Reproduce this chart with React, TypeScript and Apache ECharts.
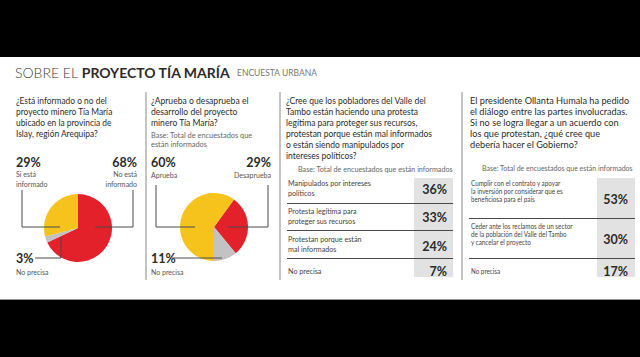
import React, { useEffect, useRef } from "react";
import * as echarts from "echarts";

// ---- Data ----
const titleLight = "SOBRE EL ";
const titleBold = "PROYECTO TÍA MARÍA";
const titleSub = "ENCUESTA URBANA";

const q1Question = ["¿Está informado o no del", "proyecto minero Tía María", "ubicado en la provincia de", "Islay, región Arequipa?"];
const q1Categories = ["No está\ninformado", "No precisa", "Si está\ninformado"];
const q1Values = [68, 3, 29];

const q2Question = ["¿Aprueba o desaprueba el", "desarrollo del proyecto", "minero Tía María?"];
const q2Base = "Base: Total de encuestados que\nestán informados";
const q2Categories = ["Desaprueba", "No precisa", "Aprueba"];
const q2Values = [29, 11, 60];

const q3Question = [
  "¿Cree que los pobladores del Valle del",
  "Tambo están haciendo una protesta",
  "legítima para proteger sus recursos,",
  "protestan porque están mal informados",
  "o están siendo manipulados por",
  "intereses políticos?",
];
const q3Base = "Base: Total de encuestados que están informados";
const q3Categories = ["Manipulados por intereses\npolíticos", "Protesta legítima para\nproteger sus recursos", "Protestan porque están\nmal informados", "No precisa"];
const q3Values = [36, 33, 24, 7];

const q4Question = [
  "El presidente Ollanta Humala ha pedido",
  "el diálogo entre las partes involucradas.",
  "Si no se logra llegar a un acuerdo con",
  "los que protestan, ¿qué cree que",
  "debería hacer el Gobierno?",
];
const q4Base = "Base: Total de encuestados que están informados";
const q4Categories = [
  "Cumplir con el contrato y apoyar\nla inversión por considerar que es\nbeneficiosa para el país",
  "Ceder ante los reclamos de un sector\nde la población del Valle del Tambo\ny cancelar el proyecto",
  "No precisa",
];
const q4Values = [53, 30, 17];

// ---- Styles ----
const RED = "#e3212b";
const GRAY = "#c2c2c2";
const YELLOW = "#f6c31c";
const FONT = "Lato, 'Open Sans', sans-serif";

function txt(x: number, y: number, text: string, o: any = {}) {
  return {
    type: "text",
    x,
    y,
    z: 20,
    scaleX: o.sx || 1,
    silent: true,
    style: {
      text,
      fill: o.fill || "#2b2b2b",
      fontSize: o.size || 10,
      fontWeight: o.weight || "normal",
      fontFamily: FONT,
      textAlign: o.align || "left",
      textVerticalAlign: o.valign || "middle",
      lineHeight: o.lh,
      rich: o.rich,
    },
  };
}
// multi-line text: y0 = centre of first line
function mtxt(x: number, y0: number, text: string, lh: number, o: any = {}) {
  return txt(x, y0 - lh / 2, text, { ...o, valign: "top", lh });
}
function poly(points: number[][]) {
  return { type: "polyline", z: 20, silent: true, shape: { points }, style: { stroke: "#4a4a4a", lineWidth: 1, fill: null } };
}
function hline(x1: number, x2: number, y: number, color = "#4a4a4a", w = 1.2) {
  return { type: "line", z: 20, silent: true, shape: { x1, y1: y, x2, y2: y }, style: { stroke: color, lineWidth: w } };
}
function vline(x: number, y1: number, y2: number) {
  return { type: "line", z: 20, silent: true, shape: { x1: x, y1, x2: x, y2 }, style: { stroke: "#8a8a8a", lineWidth: 1 } };
}
const pct = (v: number) => v + "%";

export default function App() {
  const ref = useRef<HTMLDivElement>(null);
  useEffect(() => {
    const chart = echarts.init(ref.current!, null, { renderer: "svg" });
    const g: any[] = [];
    // background
    g.push({ type: "rect", z: 0, silent: true, shape: { x: 0, y: 57, width: 640, height: 242 }, style: { fill: "#ffffff" } });
    g.push(hline(0, 640, 299.5, "#9a9a9a", 1));
    // title
    g.push(
      txt(15, 72, "{a|" + titleLight + "}{b|" + titleBold + "}", {
        rich: {
          a: { fontSize: 14, fontWeight: 300, fontFamily: FONT, fill: "#3a3a3a" },
          b: { fontSize: 14, fontWeight: "bold", fontFamily: FONT, fill: "#2b2b2b" },
        },
      })
    );
    g.push(txt(237, 73, titleSub, { size: 8.5, fill: "#777" }));
    // dividers
    g.push(vline(146, 92, 280), vline(280, 92, 280), vline(462, 92, 280));

    // questions
    const qs = { size: 10, sx: 0.84 };
    g.push(mtxt(16, 100, q1Question.join("\n"), 11, qs));
    g.push(mtxt(151, 100, q2Question.join("\n"), 11, { size: 10, sx: 0.86 }));
    g.push(mtxt(151, 135, q2Base, 8.5, { size: 7.8, fill: "#666", sx: 0.95 }));
    g.push(mtxt(286, 100, q3Question.join("\n"), 11, { size: 10, sx: 0.85 }));
    g.push(txt(298, 169, q3Base, { size: 7.2, fill: "#666" }));
    g.push(mtxt(470, 100, q4Question.join("\n"), 11, { size: 10, sx: 0.92 }));
    g.push(txt(482, 168, q4Base, { size: 7, fill: "#666" }));

    const ls = { size: 7, fill: "#555" };
    // pie 1 labels (order: No está, No precisa, Sí está)
    g.push(txt(16, 162, pct(q1Values[2]), { size: 12.5, weight: "bold" }));
    g.push(mtxt(16, 174, q1Categories[2], 9.5, ls));
    g.push(txt(137, 162, pct(q1Values[0]), { size: 12.5, weight: "bold", align: "right" }));
    g.push(mtxt(137, 174, q1Categories[0], 9.5, { ...ls, align: "right" }));
    g.push(txt(16, 258, pct(q1Values[1]), { size: 12.5, weight: "bold" }));
    g.push(txt(16, 272, q1Categories[1], ls));
    g.push(poly([[22, 190], [22, 227], [60, 227]]));
    g.push(poly([[133, 190], [133, 227], [95, 227]]));
    g.push(poly([[35, 258], [61, 258], [61, 237]]));

    // pie 2 labels (order: Desaprueba, No precisa, Aprueba)
    g.push(txt(151, 162, pct(q2Values[2]), { size: 12.5, weight: "bold" }));
    g.push(txt(151, 175, q2Categories[2], ls));
    g.push(txt(271, 162, pct(q2Values[0]), { size: 12.5, weight: "bold", align: "right" }));
    g.push(txt(271, 175, q2Categories[0], { ...ls, align: "right" }));
    g.push(txt(151, 258, pct(q2Values[1]), { size: 12.5, weight: "bold" }));
    g.push(txt(151, 272, q2Categories[1], ls));
    g.push(poly([[156, 185], [156, 227], [195, 227]]));
    g.push(poly([[268, 185], [268, 227], [228, 227]]));
    g.push(poly([[172, 258], [222, 258]]));

    // table 3
    g.push({ type: "rect", z: 10, silent: true, shape: { x: 414, y: 178, width: 39, height: 99 }, style: { fill: "#e2e2e2" } });
    const t3Text = [183, 211, 239, 271];
    const t3Val = [189, 217.5, 246.5, 271];
    const t3Sep = [203.5, 230.5, 258.5];
    q3Categories.forEach((c, i) => {
      g.push(mtxt(288, t3Text[i], c, 10, { size: 7.2, fill: "#444" }));
      g.push(txt(447, t3Val[i], pct(q3Values[i]), { size: 12.5, weight: "bold", align: "right" }));
    });
    t3Sep.forEach((y) => g.push(hline(287, 453, y)));

    // table 4
    g.push({ type: "rect", z: 10, silent: true, shape: { x: 597, y: 178, width: 38, height: 99 }, style: { fill: "#e2e2e2" } });
    const t4Text = [183, 226, 271];
    const t4Val = [199, 239, 271];
    const t4Sep = [218.5, 258.5];
    q4Categories.forEach((c, i) => {
      g.push(mtxt(471, t4Text[i], c, 8, { size: 7, fill: "#444", sx: 0.9 }));
      g.push(txt(628, t4Val[i], pct(q4Values[i]), { size: 12.5, weight: "bold", align: "right" }));
    });
    t4Sep.forEach((y) => g.push(hline(469, 635, y)));

    const pieBase = {
      type: "pie",
      radius: 34,
      clockwise: true,
      silent: true,
      label: { show: false },
      labelLine: { show: false },
      emphasis: { disabled: true },
      z: 5,
    };
    const colors = [RED, GRAY, YELLOW];
    chart.setOption({
      animation: false,
      backgroundColor: "#000000",
      series: [
        {
          ...pieBase,
          center: [78, 228],
          startAngle: 90,
          data: q1Categories.map((n, i) => ({ name: n, value: q1Values[i], itemStyle: { color: colors[i] } })),
        },
        {
          ...pieBase,
          center: [214, 227],
          startAngle: 54,
          data: q2Categories.map((n, i) => ({ name: n, value: q2Values[i], itemStyle: { color: colors[i] } })),
        },
      ],
      graphic: { elements: g },
    });
    return () => chart.dispose();
  }, []);
  return <div ref={ref} style={{ position: "fixed", left: 0, top: 0, width: 640, height: 357 }} />;
}
